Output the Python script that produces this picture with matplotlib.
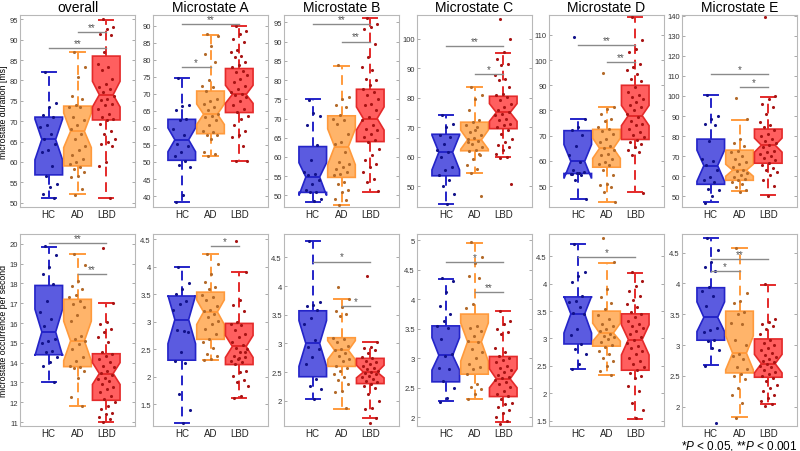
import matplotlib
matplotlib.use('Agg')
import matplotlib.pyplot as plt
import numpy as np

plt.rcParams['font.family'] = ['Liberation Sans', 'DejaVu Sans']
plt.rcParams['mathtext.fontset'] = 'custom'
plt.rcParams['mathtext.it'] = 'Liberation Sans:italic'
plt.rcParams['mathtext.rm'] = 'Liberation Sans'

groups = ['HC', 'AD', 'LBD']
titles = ['overall', 'Microstate A', 'Microstate B', 'Microstate C', 'Microstate D', 'Microstate E']
row_labels = ['microstate duration [ms]', 'microstate occurrence per second']

# ---- box statistics per group: [whislo, q1, cilo, med, cihi, q3, whishi] ----
dur_overall_box = [[51.0, 56.8, 60.5, 65.5, 70.5, 71.0, 82.0],
                   [52.0, 59.0, 63.5, 67.5, 72.0, 73.7, 87.0],
                   [51.0, 70.3, 73.5, 76.5, 79.8, 86.0, 94.8]]
dur_A_box = [[38.2, 50.5, 53.0, 56.5, 60.0, 62.5, 74.6],
             [51.7, 58.3, 61.0, 64.0, 67.0, 70.8, 87.3],
             [50.3, 64.5, 67.2, 69.8, 72.5, 77.4, 90.0]]
dur_B_box = [[48.3, 50.8, 50.0, 54.8, 58.5, 62.7, 75.0],
             [47.6, 54.7, 58.0, 62.7, 67.3, 70.7, 83.7],
             [51.0, 64.0, 67.0, 70.0, 73.0, 77.6, 96.0]]
dur_C_box = [[44.0, 53.5, 55.5, 61.5, 67.3, 67.6, 74.3],
             [54.5, 62.0, 62.5, 65.7, 69.0, 71.7, 83.5],
             [59.8, 69.5, 72.0, 75.0, 78.0, 80.5, 95.3]]
dur_D_box = [[45.0, 55.0, 53.0, 59.8, 66.5, 72.0, 76.7],
             [43.5, 57.5, 61.0, 65.0, 69.0, 72.5, 81.5],
             [47.5, 68.5, 74.0, 78.0, 82.0, 90.0, 117.0]]
dur_E_box = [[47.0, 56.0, 57.5, 65.3, 73.0, 78.5, 100.5],
             [52.5, 58.0, 60.0, 63.0, 66.0, 73.0, 88.0],
             [50.5, 66.5, 72.0, 75.5, 79.0, 83.5, 99.5]]
occ_overall_box = [[13.0, 14.4, 14.35, 15.55, 16.7, 17.9, 19.85],
                   [11.8, 13.8, 14.1, 15.1, 16.1, 17.2, 19.5],
                   [11.0, 12.1, 12.9, 13.45, 14.0, 14.45, 17.0]]
occ_A_box = [[1.15, 2.3, 2.6, 3.04, 3.48, 3.47, 4.0],
             [2.3, 2.68, 2.95, 3.18, 3.4, 3.54, 4.23],
             [1.61, 2.22, 2.35, 2.55, 2.75, 2.97, 3.9]]
occ_B_box = [[2.03, 2.42, 2.6, 3.0, 3.4, 3.57, 4.78],
             [1.86, 2.6, 2.72, 2.88, 3.05, 3.1, 3.77],
             [1.7, 2.3, 2.4, 2.5, 2.62, 2.74, 3.03]]
occ_C_box = [[2.27, 2.6, 2.8, 3.05, 3.35, 3.55, 4.35],
             [2.3, 2.73, 2.95, 3.28, 3.6, 3.75, 4.95],
             [1.91, 2.35, 2.5, 2.65, 2.82, 3.03, 3.8]]
occ_D_box = [[2.45, 2.9, 3.1, 3.45, 3.77, 3.76, 4.72],
             [2.33, 2.86, 2.95, 3.1, 3.28, 3.5, 4.38],
             [1.53, 2.42, 2.7, 2.98, 3.25, 3.45, 4.2]]
occ_E_box = [[2.67, 3.08, 3.22, 3.45, 3.7, 3.93, 4.74],
             [1.84, 2.55, 2.6, 2.87, 3.15, 3.55, 4.58],
             [2.04, 2.48, 2.55, 2.7, 2.85, 3.1, 3.98]]

# ---- individual subject values ----
dur_overall_hc = [82, 74.5, 73.6, 71.4, 71.0, 69.0, 68.5, 66.9, 65.7, 64.4, 62.8, 62.4, 59.1, 56.6, 54.6, 53.8, 52.1, 51.0]
dur_overall_ad = [87, 83.3, 80.8, 76.3, 75.5, 73.9, 73.4, 73.6, 71.0, 70.2, 69.0, 68.1, 66.9, 65.7, 64.0, 62.8, 61.6, 60.7,
                  59.9, 59.5, 58.7, 58.3, 57.5, 56.6, 56.2, 53.4, 51.9]
dur_overall_lbd = [95, 93.1, 92.7, 91.5, 91.1, 87, 84.1, 83.3, 82.5, 80.4, 79.2, 78.4, 78, 77.1, 76.3, 75.5, 75.1, 74.3,
                   73.9, 73.1, 71.8, 71, 70.6, 70.2, 69.4, 67.7, 66.9, 65.7, 64.8, 64.4, 64, 59.9, 59.1, 51.1]
dur_A_hc = [74.6, 66.8, 66.4, 65.1, 62.5, 62.2, 59.7, 58.0, 55.3, 54.8, 52.9, 51.9, 50.2, 49.2, 48.5, 40.2, 38.2]
dur_A_ad = [87.6, 86.9, 84.1, 81.7, 79.3, 73.9, 72.4, 71.9, 70.9, 68.5, 68.0, 67.0, 66.1, 65.1, 64.1, 63.6, 63.1, 62.2,
            60.7, 59.2, 58.7, 57.9, 57.8, 56.8, 52.9, 52.4, 51.7]
dur_A_lbd = [90, 88.5, 87.6, 86.1, 85.1, 82.7, 82.2, 81.2, 80.7, 79.3, 78.3, 77.8, 76.8, 76.3, 75.4, 74.4, 73.4, 72.4,
             71.4, 70.5, 70.0, 69.5, 69.0, 68.0, 66.6, 65.6, 64.6, 63.6, 62.7, 60.9, 59.2, 57.8, 57.3, 54.8, 50.4, 50.3]
dur_B_hc = [74.9, 70.6, 71.5, 68.2, 63.0, 59.1, 56.2, 55.6, 55.2, 53.9, 53.0, 51.3, 51.0, 50.9, 49.2, 48.6]
dur_B_ad = [83.8, 75.5, 75.1, 73.4, 72.9, 70.8, 69.9, 69.5, 68.6, 66.0, 63.9, 63.4, 61.3, 58.7, 58.2, 57.4, 56.9, 56.1,
            55.6, 55.2, 53.6, 53.0, 51.3, 50.9, 49.2, 48.7, 47.6]
dur_B_lbd = [96, 94.6, 93.7, 93.3, 89.4, 85.9, 83.3, 82.5, 80.3, 79.9, 78.6, 77.7, 76.8, 76.0, 75.1, 73.8, 73.4, 72.1,
             70.4, 69.5, 68.4, 67.3, 66.9, 66.0, 65.2, 64.3, 63.9, 62.2, 60.4, 59.1, 58.2, 57.4, 56.1, 54.3, 53.5, 51.1]
dur_C_hc = [74.3, 71.2, 70.0, 67.2, 66.6, 64.4, 62.1, 61.5, 59.8, 56.4, 55.3, 53.6, 51.9, 50.2, 47.4, 44.0]
dur_C_ad = [83.6, 80.8, 79.6, 75.7, 72.3, 71.7, 70.8, 70.0, 68.3, 67.2, 66.3, 66.0, 65.2, 64.4, 63.2, 62.4, 62.0, 60.4,
            59.3, 57.0, 55.9, 54.5, 46.6, 69.1, 64.9, 61.0]
dur_C_lbd = [106.6, 99.8, 95.5, 93.2, 91.5, 91.0, 87.6, 86.4, 85.9, 83.6, 81.3, 80.8, 80.2, 79.1, 78.0, 76.8, 75.7, 75.1,
             74.5, 74.0, 72.9, 72.3, 71.2, 70.6, 70.0, 68.9, 67.8, 66.1, 64.9, 63.8, 63.2, 62.1, 61.0, 59.8, 59.5, 50.8]
dur_D_hc = [109.1, 76.7, 73.4, 72.1, 70.1, 66.1, 62.4, 59.5, 56.2, 55.6, 55.3, 54.9, 54.3, 52.5, 45.0, 55.0, 54.6]
dur_D_ad = [94.9, 81.3, 80.7, 78.7, 76.7, 76.0, 73.4, 72.7, 71.7, 70.8, 68.8, 67.5, 66.1, 65.2, 64.2, 62.8, 62.2, 60.9,
            59.5, 58.9, 58.2, 56.2, 54.3, 51.0, 50.3, 49.6, 47.6, 43.7]
dur_D_lbd = [117, 107.8, 104.5, 103.1, 98.5, 97.2, 95.9, 94.5, 92.6, 91.9, 89.3, 87.3, 86.0, 85.3, 84.6, 83.3, 82.0, 81.3,
             80.0, 78.7, 77.3, 76.0, 74.7, 74.1, 72.7, 71.4, 70.4, 69.4, 68.1, 67.5, 66.8, 65.5, 64.2, 63.5, 62.2, 47.4]
dur_E_hc = [100.5, 90.2, 88.6, 86.1, 85.3, 77.8, 68.4, 67.5, 65.4, 62.9, 59.6, 58.0, 57.1, 53.8, 53.0, 50.4, 46.8]
dur_E_ad = [98.9, 88.3, 78.6, 76.6, 75.3, 72.8, 72.0, 70.3, 68.7, 67.0, 66.2, 64.5, 63.3, 62.4, 61.7, 60.4, 59.6, 58.7,
            57.9, 57.1, 56.3, 54.6, 53.4, 52.4]
dur_E_lbd = [139.2, 99.9, 98.5, 96.1, 94.4, 91.1, 87.0, 85.3, 84.4, 82.8, 81.1, 80.3, 78.6, 77.8, 76.6, 75.6, 74.5, 72.8,
             72.0, 71.2, 70.3, 69.0, 67.9, 66.7, 65.4, 64.1, 62.9, 62.1, 60.4, 57.9, 55.4, 50.0]

occ_overall_hc = [19.87, 19.46, 18.85, 18.5, 17.98, 17.13, 16.54, 16.2, 15.87, 15.2, 15.08, 14.97, 14.6, 14.52, 14.3,
                  14.01, 13.84, 13.0]
occ_overall_ad = [19.5, 18.95, 18.14, 17.89, 17.72, 17.44, 17.3, 17.13, 16.96, 16.8, 16.42, 16.12, 15.36, 15.2, 15.08,
                  14.94, 14.69, 14.3, 14.1, 13.84, 13.79, 13.73, 13.59, 13.25, 12.28, 11.79]
occ_overall_lbd = [19.8, 17.0, 16.04, 15.95, 15.7, 15.53, 15.31, 15.03, 14.52, 14.43, 14.35, 14.18, 14.01, 13.84, 13.76,
                   13.59, 13.46, 13.39, 13.25, 13.17, 13.09, 12.92, 12.78, 12.66, 12.5, 12.33, 12.16, 11.99, 11.82,
                   11.65, 11.48, 11.4, 11.23, 11.15, 10.98]
occ_A_hc = [3.99, 3.7, 3.6, 3.51, 3.37, 3.33, 3.22, 2.84, 2.85, 2.81, 2.44, 2.29, 2.24, 1.68, 1.39, 1.15]
occ_A_ad = [4.24, 4.06, 3.87, 3.72, 3.63, 3.6, 3.48, 3.46, 3.39, 3.29, 3.22, 3.19, 3.14, 3.08, 3.02, 2.96, 2.87, 2.78,
            2.69, 2.63, 2.53, 2.41, 2.38, 2.32, 2.3]
occ_A_lbd = [4.47, 3.9, 3.4, 3.31, 3.19, 2.99, 2.96, 2.95, 2.85, 2.78, 2.72, 2.63, 2.57, 2.53, 2.5, 2.44, 2.38, 2.35,
             2.32, 2.29, 2.26, 2.23, 2.11, 2.08, 2.02, 1.93, 1.9, 1.83, 1.65, 1.61, 2.45, 2.34]
occ_B_hc = [4.78, 3.72, 3.67, 3.65, 3.58, 3.44, 3.34, 3.06, 2.93, 2.9, 2.76, 2.64, 2.38, 2.26, 2.2, 2.03]
occ_B_ad = [3.99, 3.77, 3.64, 3.56, 3.51, 3.48, 3.1, 3.08, 3.02, 2.96, 2.9, 2.88, 2.84, 2.78, 2.73, 2.7, 2.61, 2.58,
            2.52, 2.47, 2.41, 2.36, 2.29, 2.17, 2.15, 1.87]
occ_B_lbd = [4.18, 3.03, 2.94, 2.92, 2.88, 2.83, 2.77, 2.74, 2.7, 2.67, 2.64, 2.61, 2.58, 2.55, 2.52, 2.51, 2.49, 2.47,
             2.44, 2.41, 2.38, 2.35, 2.33, 2.29, 2.26, 2.23, 2.12, 2.0, 1.88, 1.85, 1.7, 1.62]
occ_C_hc = [4.36, 4.31, 4.12, 3.88, 3.75, 3.64, 3.55, 3.51, 3.32, 3.07, 3.04, 2.83, 2.81, 2.61, 2.5, 2.32, 2.26]
occ_C_ad = [4.97, 4.72, 4.61, 4.4, 4.36, 3.92, 3.86, 3.55, 3.52, 3.47, 3.38, 3.3, 3.28, 3.15, 3.1, 3.01, 2.9, 2.85,
            2.81, 2.74, 2.56, 2.51, 2.47, 2.39, 2.3]
occ_C_lbd = [3.8, 3.64, 3.59, 3.49, 3.45, 3.41, 3.18, 3.1, 3.04, 3.01, 2.97, 2.93, 2.87, 2.83, 2.8, 2.76, 2.72, 2.69,
             2.66, 2.63, 2.59, 2.56, 2.51, 2.44, 2.39, 2.36, 2.3, 2.24, 2.22, 2.17, 2.13, 2.07, 2.0, 1.94, 1.89]
occ_D_hc = [4.73, 4.21, 4.15, 4.04, 3.78, 3.69, 3.66, 3.57, 3.47, 3.44, 3.17, 3.06, 2.89, 2.8, 2.71, 2.53, 2.44]
occ_D_ad = [4.84, 4.39, 3.9, 3.76, 3.64, 3.53, 3.43, 3.35, 3.27, 3.23, 3.17, 3.13, 3.09, 3.05, 3.02, 2.99, 2.94, 2.88,
            2.84, 2.78, 2.71, 2.64, 2.59, 2.5, 2.41, 2.33]
occ_D_lbd = [4.21, 4.05, 3.96, 3.87, 3.78, 3.7, 3.63, 3.57, 3.49, 3.45, 3.39, 3.32, 3.27, 3.23, 3.19, 3.14, 3.08, 3.02,
             2.97, 2.92, 2.86, 2.82, 2.77, 2.71, 2.65, 2.59, 2.54, 2.48, 2.42, 2.37, 2.31, 2.27, 2.13, 2.04, 1.82,
             1.7, 1.54]
occ_E_hc = [4.74, 4.54, 4.34, 4.26, 4.2, 3.94, 3.88, 3.8, 3.64, 3.28, 3.24, 3.22, 3.08, 3.07, 2.92, 2.95, 2.66, 1.74]
occ_E_ad = [4.58, 3.85, 3.72, 3.69, 3.54, 3.51, 3.36, 3.34, 3.08, 3.01, 2.86, 2.82, 2.77, 2.64, 2.62, 2.53, 2.5, 2.45,
            2.31, 2.2, 2.07, 1.82]
occ_E_lbd = [3.99, 3.42, 3.38, 3.34, 3.31, 3.26, 3.18, 3.09, 3.04, 3.0, 2.96, 2.92, 2.88, 2.84, 2.81, 2.77, 2.74, 2.72,
             2.69, 2.66, 2.64, 2.59, 2.57, 2.54, 2.5, 2.46, 2.42, 2.36, 2.31, 2.26, 2.2, 2.15, 2.1, 2.04, 2.01]

# ---- significance bars: (group i, group j, y, label) ----
dur_overall_sig = [(1, 3, 88.0, '**'), (2, 3, 91.9, '**')]
dur_A_sig = [(1, 2, 77.8, '*'), (1, 3, 90.5, '**')]
dur_B_sig = [(1, 3, 94.5, '**'), (2, 3, 90.0, '**')]
dur_C_sig = [(1, 3, 97.5, '**'), (2, 3, 88.0, '*')]
dur_D_sig = [(1, 3, 105.8, '**'), (2, 3, 99.2, '**')]
dur_E_sig = [(1, 3, 111.0, '*'), (2, 3, 104.3, '*')]
occ_overall_sig = [(1, 3, 20.05, '**'), (2, 3, 18.5, '**')]
occ_A_sig = [(2, 3, 4.38, '*')]
occ_B_sig = [(1, 3, 4.43, '*'), (2, 3, 3.66, '*')]
occ_C_sig = [(1, 3, 4.63, '*'), (2, 3, 4.13, '**')]
occ_D_sig = [(1, 3, 4.49, '*')]
occ_E_sig = [(1, 3, 4.39, '**'), (1, 2, 4.2, '*')]

# ---- panel axis ranges / ticks (layout) ----
dur_limits = [(48.9, 96.1), (36.8, 93.1), (47.0, 96.9), (42.9, 108.1), (41.7, 117.9), (44.7, 140.3)]
dur_ticks = [np.arange(50, 96, 5), np.arange(40, 91, 5), np.arange(50, 96, 5),
             np.arange(50, 101, 10), np.arange(50, 111, 10), np.arange(50, 141, 10)]
occ_limits = [(10.8, 20.5), (1.1, 4.6), (1.56, 4.91), (1.85, 5.11), (1.4, 4.91), (1.69, 4.8)]
occ_ticks = [np.arange(11, 21, 1), np.arange(1.5, 4.51, 0.5), np.arange(2, 4.51, 0.5),
             np.arange(2, 5.01, 0.5), np.arange(1.5, 4.51, 0.5), np.arange(2, 4.51, 0.5)]

top_boxes = [dur_overall_box, dur_A_box, dur_B_box, dur_C_box, dur_D_box, dur_E_box]
bot_boxes = [occ_overall_box, occ_A_box, occ_B_box, occ_C_box, occ_D_box, occ_E_box]
top_points = [(dur_overall_hc, dur_overall_ad, dur_overall_lbd), (dur_A_hc, dur_A_ad, dur_A_lbd),
              (dur_B_hc, dur_B_ad, dur_B_lbd), (dur_C_hc, dur_C_ad, dur_C_lbd),
              (dur_D_hc, dur_D_ad, dur_D_lbd), (dur_E_hc, dur_E_ad, dur_E_lbd)]
bot_points = [(occ_overall_hc, occ_overall_ad, occ_overall_lbd), (occ_A_hc, occ_A_ad, occ_A_lbd),
              (occ_B_hc, occ_B_ad, occ_B_lbd), (occ_C_hc, occ_C_ad, occ_C_lbd),
              (occ_D_hc, occ_D_ad, occ_D_lbd), (occ_E_hc, occ_E_ad, occ_E_lbd)]
top_sig = [dur_overall_sig, dur_A_sig, dur_B_sig, dur_C_sig, dur_D_sig, dur_E_sig]
bot_sig = [occ_overall_sig, occ_A_sig, occ_B_sig, occ_C_sig, occ_D_sig, occ_E_sig]

face_colors = ['#5b5be0', '#ffb46a', '#ff5f5f']
edge_colors = ['#2424c8', '#ff9a3c', '#e42a2a']
dot_colors = ['#12128a', '#b36a2a', '#a81414']

fig = plt.figure(figsize=(8.0, 4.52), dpi=100)
lefts = [20, 153, 284, 417, 549, 682]
width_px = 115
row_bottoms = [1 - 208 / 452, 1 - 427 / 452]
h = 192 / 452


def draw_panel(ax, boxes, points, sigs, ylim, yticks):
    stats = []
    for b in boxes:
        stats.append(dict(whislo=b[0], q1=b[1], cilo=b[2], med=b[3], cihi=b[4], q3=b[5], whishi=b[6], fliers=[]))
    for i in range(3):
        ax.bxp([stats[i]], positions=[i + 1], widths=0.96, shownotches=True, patch_artist=True,
               showfliers=False, capwidths=[0.5],
               boxprops=dict(facecolor=face_colors[i], edgecolor=edge_colors[i], linewidth=1.2),
               medianprops=dict(color=edge_colors[i], linewidth=1.4),
               whiskerprops=dict(color=edge_colors[i], linewidth=1.4, linestyle=(0, (5, 3))),
               capprops=dict(color=edge_colors[i], linewidth=1.4))
    for i in range(3):
        vals = np.asarray(points[i])
        n = len(vals)
        off = ((np.arange(n) * 0.6180339887 + 0.3) % 1.0 - 0.5) * 0.6
        ax.scatter(i + 1 + off, vals, s=5, color=dot_colors[i], zorder=5, linewidths=0)
    for (g1, g2, y, lab) in sigs:
        ax.plot([g1, g2], [y, y], color='#8a8a8a', lw=1.0, zorder=6)
        ax.text((g1 + g2) / 2, y, lab, ha='center', va='bottom', fontsize=7, color='#555555', zorder=7)
    ax.set_xlim(0, 4)
    ax.set_ylim(*ylim)
    ax.set_yticks(yticks)
    ax.set_yticklabels(['%g' % t for t in yticks], fontsize=5.5, color='#333333')
    ax.set_xticks([1, 2, 3])
    ax.set_xticklabels(groups, fontsize=7, color='#222222')
    ax.tick_params(axis='y', direction='in', length=2, width=0.5, right=True, pad=1.5, colors='#888888',
                   labelcolor='#333333')
    ax.tick_params(axis='x', direction='in', length=0, pad=1.2)
    for sp in ax.spines.values():
        sp.set_color('#b8b8b8')
        sp.set_linewidth(0.8)


for c in range(6):
    ax = fig.add_axes([lefts[c] / 800, row_bottoms[0], width_px / 800, h])
    draw_panel(ax, top_boxes[c], top_points[c], top_sig[c], dur_limits[c], dur_ticks[c])
    ax.set_title(titles[c], fontsize=10, pad=3)
    if c == 0:
        ax.set_ylabel(row_labels[0], fontsize=6.3, labelpad=1)
    ax2 = fig.add_axes([lefts[c] / 800, row_bottoms[1], width_px / 800, h])
    draw_panel(ax2, bot_boxes[c], bot_points[c], bot_sig[c], occ_limits[c], occ_ticks[c])
    if c == 0:
        ax2.set_ylabel(row_labels[1], fontsize=6.3, labelpad=1)

fig.text(0.997, 2.5 / 452, r'*$\it{P}$ < 0.05, **$\it{P}$ < 0.001', ha='right', va='baseline', fontsize=8.5)

fig.savefig('out.png', dpi=100)
